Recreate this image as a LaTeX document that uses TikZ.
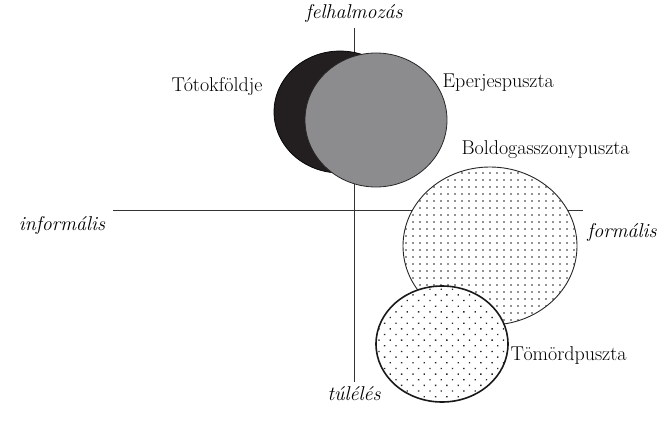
\documentclass[tikz,border=0pt]{standalone}
\usepackage{tikz}
\usetikzlibrary{patterns.meta}
\usepackage{xcolor}
\definecolor{darkfill}{HTML}{231F20}
\definecolor{grayfill}{HTML}{8C8C8E}

\begin{document}
\begin{tikzpicture}[x=1pt,y=-1pt,font=\fontsize{20}{24}\selectfont]
  \useasboundingbox (0,0) rectangle (661,425);
  % axes
  \coordinate (top) at (354,28);    \coordinate (bottom) at (354,382);
  \coordinate (left) at (113,210);  \coordinate (right) at (583,210);
  \draw[line width=0.9pt, draw=black!80] (top) -- (bottom);
  \draw[line width=0.9pt, draw=black!80] (left) -- (right);
  % ellipses
  \draw[fill=darkfill, line width=0.7pt] (340,112) ellipse (66 and 61);
  \draw[fill=grayfill, line width=0.8pt, draw=black!85] (376,120) ellipse (71 and 67);
  \fill[white] (490,246) ellipse (87 and 79);
  \draw[pattern={Dots[distance=7pt, radius=0.95pt]}, pattern color=black!85, line width=0.9pt, draw=black!85] (490,246) ellipse (87 and 79);
  \fill[white] (442,344) ellipse (66 and 58);
  \draw[pattern={Dots[distance=8pt, radius=0.95pt, angle=45]}, pattern color=black!85, line width=1.6pt, draw=black!90] (442,344) ellipse (66 and 58);
  % labels
  \node (felh) at (354,14) {\itshape felhalmozás};
  \node (tulel) at (354,394) {\itshape túlélés};
  \node (inf) at (62,225) {\itshape informális};
  \node (form) at (622,232) {\itshape formális};
  \node[anchor=east] (toto) at (266,87) {Tótokföldje};
  \node[anchor=west] (eper) at (439,83) {Eperjespuszta};
  \node[anchor=west] (bold) at (458,150) {Boldogasszonypuszta};
  \node[anchor=west] (tomo) at (507,356) {Tömördpuszta};
\end{tikzpicture}
\end{document}
